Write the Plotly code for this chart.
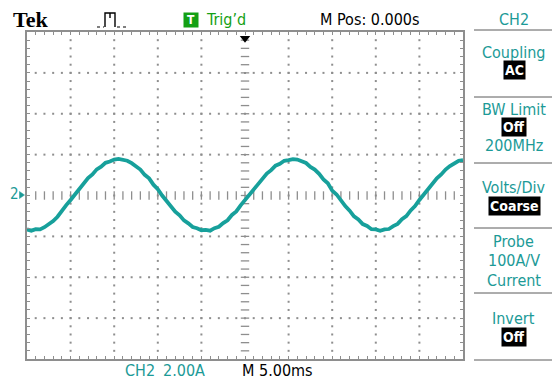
import numpy as np
import plotly.graph_objects as go

# ---------------- data ----------------
SAMPLE_STEP_MS = 0.5
T_START_MS = -25.0
current_A = [
    -1.66, -1.72, -1.65, -1.66, -1.55, -1.42, -1.25, -1.04, -0.74, -0.47,
    -0.22, 0.06, 0.33, 0.58, 0.85, 1.03, 1.28, 1.41, 1.60, 1.66,
    1.76, 1.79, 1.75, 1.70, 1.58, 1.45, 1.27, 1.01, 0.84, 0.53,
    0.31, 0.00, -0.27, -0.49, -0.79, -0.97, -1.22, -1.36, -1.54, -1.60,
    -1.70, -1.68, -1.72, -1.60, -1.53, -1.35, -1.21, -0.95, -0.78, -0.48,
    -0.21, 0.04, 0.28, 0.59, 0.80, 1.07, 1.24, 1.46, 1.55, 1.70,
    1.73, 1.78, 1.76, 1.66, 1.59, 1.40, 1.27, 1.06, 0.79, 0.60,
    0.24, 0.05, -0.26, -0.52, -0.74, -1.02, -1.17, -1.40, -1.49, -1.65,
    -1.66, -1.73, -1.66, -1.64, -1.50, -1.39, -1.16, -1.01, -0.73, -0.52,
    -0.22, 0.06, 0.28, 0.58, 0.84, 1.03, 1.27, 1.44, 1.56, 1.70,
    1.73,
]
time_ms = [T_START_MS + SAMPLE_STEP_MS * i for i in range(len(current_A))]

TIME_PER_DIV_MS = 5.0
AMPS_PER_DIV = 2.0
H_DIVS = 10
V_DIVS = 8
TRIGGER_TIME_MS = 0.0
TRIGGER_LEVEL_A = 1.7

menu_items = [
    ("CH2", "title"),
    ("Coupling", "label"), ("AC", "box"),
    ("BW Limit", "label"), ("Off", "box"), ("200MHz", "label"),
    ("Volts/Div", "label"), ("Coarse", "box"),
    ("Probe", "label"), ("100A/V", "label"), ("Current", "label"),
    ("Invert", "label"), ("Off", "box"),
]
menu_y_px = [19, 53, 70, 109, 127, 145, 187, 206, 241, 260, 280, 318, 337]
separator_y_px = [30, 97, 163, 228, 293, 360]

# ---------------- layout constants ----------------
W, H = 552, 381
L, R, T, B = 27, 463, 32, 359
PW, PH = R - L, B - T

def PX(x):
    return (x - L) / PW

def PY(y):
    return (B - y) / PH

TEAL = "#17a09b"
TEXT_TEAL = "#1c9a97"
GREEN = "#14a014"
GRID = "#8e8e8e"
FONT = "DejaVu Sans Condensed, DejaVu Sans, sans-serif"

xmax = H_DIVS / 2 * TIME_PER_DIV_MS
ymax = V_DIVS / 2 * AMPS_PER_DIV
xminor = TIME_PER_DIV_MS / 5
yminor = AMPS_PER_DIV / 5

fig = go.Figure()

# graticule dots
xs_minor = np.arange(-xmax, xmax + 1e-9, xminor)
ys_minor = np.arange(-ymax, ymax + 1e-9, yminor)
x_major = [k * TIME_PER_DIV_MS for k in range(-H_DIVS // 2 + 1, H_DIVS // 2) if k != 0]
y_major = [k * AMPS_PER_DIV for k in range(-V_DIVS // 2 + 1, V_DIVS // 2) if k != 0]
dx, dy = [], []
for xv in x_major:
    for yv in ys_minor[1:-1]:
        dx.append(xv); dy.append(yv)
for yv in y_major:
    for xv in xs_minor[1:-1]:
        dx.append(xv); dy.append(yv)
fig.add_trace(go.Scatter(x=dx, y=dy, mode="markers",
                         marker=dict(symbol="square", size=2, color=GRID, line=dict(width=0)),
                         hoverinfo="skip"))
# center cross ticks
fig.add_trace(go.Scatter(x=list(xs_minor[1:-1]), y=[0] * (len(xs_minor) - 2), mode="markers",
                         marker=dict(symbol="line-ns", size=6, line=dict(width=1.3, color=GRID)),
                         hoverinfo="skip"))
fig.add_trace(go.Scatter(x=[0] * (len(ys_minor) - 2), y=list(ys_minor[1:-1]), mode="markers",
                         marker=dict(symbol="line-ew", size=6, line=dict(width=1.3, color=GRID)),
                         hoverinfo="skip"))

# waveform
fig.add_trace(go.Scatter(x=time_ms, y=current_A, mode="lines",
                         line=dict(color=TEAL, width=3.8), hoverinfo="skip"))

# trigger position marker
fig.add_trace(go.Scatter(x=[TRIGGER_TIME_MS], y=[ymax - 0.3], mode="markers",
                         marker=dict(symbol="triangle-down", size=9, color="black"),
                         cliponaxis=False, hoverinfo="skip"))
# trigger level marker (right edge)
fig.add_trace(go.Scatter(x=[xmax + 0.15], y=[TRIGGER_LEVEL_A], mode="markers",
                         marker=dict(symbol="triangle-left", size=6, color=TEXT_TEAL),
                         cliponaxis=False, hoverinfo="skip"))

axis_common = dict(showgrid=False, zeroline=False, showline=True, linecolor=GRID, linewidth=2,
                   mirror="ticks", ticks="inside", ticklen=3, tickwidth=1, tickcolor=GRID,
                   showticklabels=False, fixedrange=True)
fig.update_xaxes(range=[-xmax, xmax], dtick=xminor, tick0=0, **axis_common)
fig.update_yaxes(range=[-ymax, ymax], dtick=yminor, tick0=0, **axis_common)

shapes = []
for sy in separator_y_px:
    shapes.append(dict(type="line", xref="paper", yref="paper", x0=PX(474), x1=PX(552),
                       y0=PY(sy), y1=PY(sy), line=dict(color="#5a5a5a", width=1)))
# trigger-type pulse icon
shapes.append(dict(type="line", xref="paper", yref="paper", x0=PX(97), x1=PX(104), y0=PY(27), y1=PY(27),
                   line=dict(color="black", width=1.2, dash="dot")))
shapes.append(dict(type="line", xref="paper", yref="paper", x0=PX(117), x1=PX(128), y0=PY(27), y1=PY(27),
                   line=dict(color="black", width=1.2, dash="dot")))
pulse = "M {},{} L {},{} L {},{} L {},{} M {},{} L {},{}".format(
    PX(105), PY(27), PX(105), PY(13), PX(115), PY(13), PX(115), PY(27), PX(110), PY(13), PX(110), PY(18))
shapes.append(dict(type="path", xref="paper", yref="paper", path=pulse, line=dict(color="black", width=1.4)))
# ground marker arrow
gnd = "M {},{} L {},{} L {},{} Z".format(PX(19.5), PY(191.5), PX(24.5), PY(195), PX(19.5), PY(198.5))
shapes.append(dict(type="path", xref="paper", yref="paper", path=gnd, fillcolor=TEXT_TEAL,
                   line=dict(color=TEXT_TEAL, width=0.5)))

ann = []
def text(x, y, s, color="black", size=16, family=FONT, **kw):
    ann.append(dict(x=PX(x), y=PY(y), xref="paper", yref="paper", text=s, showarrow=False,
                    xanchor="center", yanchor="middle", font=dict(color=color, size=size, family=family), **kw))

text(30, 19, "<b>Tek</b>", size=22, family="Liberation Serif, DejaVu Serif, serif")
text(190.5, 20, "<b>T</b>", color="white", size=12, bgcolor=GREEN, width=14, height=14, borderpad=0)
text(226, 19, "Trig’d", color=GREEN, size=16)
text(370, 19, "M Pos: 0.000s", size=16)
text(14, 194, "2", color=TEXT_TEAL, size=15)
text(140, 370, "CH2", color=TEXT_TEAL, size=16)
text(184, 370, "2.00A", color=TEXT_TEAL, size=16)
text(277, 370, "M 5.00ms", size=16)

for (s, kind), yv in zip(menu_items, menu_y_px):
    if kind == "box":
        text(514, yv, "<b>" + s + "</b>", color="white", size=14, bgcolor="black", borderpad=1)
    else:
        text(513.5, yv, s, color=TEXT_TEAL, size=16)

fig.update_layout(width=W, height=H, margin=dict(l=L, r=W - R, t=T, b=H - B, pad=0),
                  paper_bgcolor="white", plot_bgcolor="white", showlegend=False,
                  shapes=shapes, annotations=ann)

fig.write_html("out.html")
